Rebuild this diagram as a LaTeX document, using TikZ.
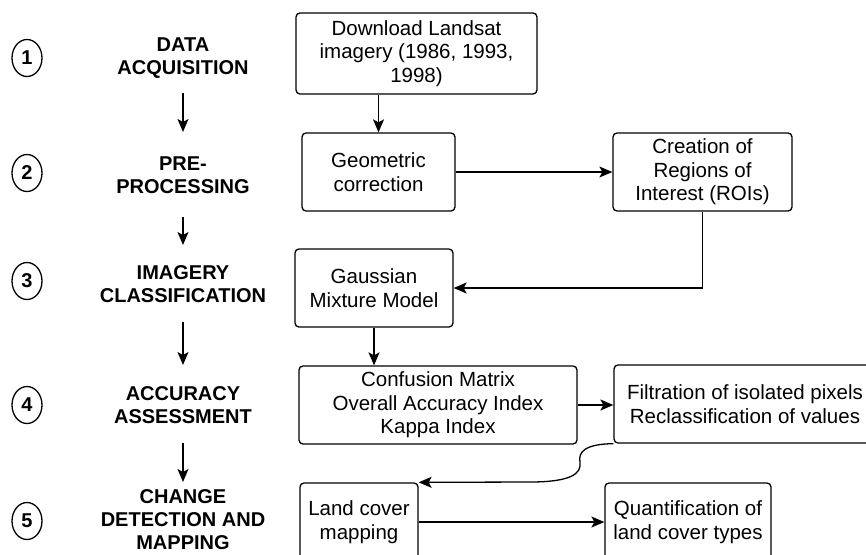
\documentclass[tikz,border=0pt]{standalone}
\usepackage{fontspec}
\setmainfont{Liberation Sans}
\usetikzlibrary{arrows.meta,shapes.geometric}
\begin{document}
\begin{tikzpicture}[x=1pt,y=-1pt]
	 \tikzstyle{stage num}=[ellipse,draw,line width=1.3pt,minimum width=30pt,minimum height=37pt,inner sep=0pt,font=\fontsize{20}{23}\selectfont\bfseries]
	 \tikzstyle{stage}=[align=center,inner sep=0pt,font=\fontsize{20}{23}\selectfont\bfseries]
	 \tikzstyle{box}=[draw,line width=1.3pt,rounded corners=4pt,align=center,inner sep=0pt,minimum height=78pt,font=\fontsize{20.5}{23.5}\selectfont]
	 \tikzstyle{edge}=[draw,line width=1.3pt,-{Stealth[length=13pt,width=11pt,inset=3pt]}]

	 \useasboundingbox (0,0) rectangle (866,554);
	 \clip (0,0) rectangle (866,554);

	 \node[stage num] (n1) at (27,58) {1};
	 \node[stage num] (n2) at (27,173) {2};
	 \node[stage num] (n3) at (27,281) {3};
	 \node[stage num] (n4) at (27,405) {4};
	 \node[stage num] (n5) at (27,521) {5};

	 \node[stage] (s1) at (183,58) {DATA\\ACQUISITION};
	 \node[stage] (s2) at (183,175) {PRE-\\PROCESSING};
	 \node[stage] (s3) at (183,284) {IMAGERY\\CLASSIFICATION};
	 \node[stage] (s4) at (183,405) {ACCURACY\\ASSESSMENT};
	 \node[stage] (s5) at (183,520) {CHANGE\\DETECTION AND\\MAPPING};

	 \draw[edge,shorten <=35pt,shorten >=43pt] (s1.center) -- (s2.center);
	 \draw[edge,shorten <=42pt,shorten >=39pt] (s2.center) -- (s3.center);
	 \draw[edge,shorten <=38pt,shorten >=40pt] (s3.center) -- (s4.center);
	 \draw[edge,shorten <=38pt,shorten >=38pt] (s4.center) -- (s5.center);

	 \node[box,minimum width=241pt,minimum height=81pt] (dl) at (416.5,53.5) {Download Landsat\\imagery (1986, 1993,\\1998)};
	 \node[box,minimum width=153pt] (geo) at (378.5,172) {Geometric\\correction};
	 \node[box,minimum width=179pt] (roi) at (702.5,172) {Creation of\\Regions of\\Interest (ROIs)};
	 \node[box,minimum width=158pt] (gmm) at (374,288) {Gaussian\\Mixture Model};
	 \node[box,minimum width=278pt] (conf) at (438,405) {Confusion Matrix\\Overall Accuracy Index\\Kappa Index};
	 \node[box,minimum width=262pt] (filt) at (745,404) {Filtration of isolated pixels\\Reclassification of values};
	 \node[box,minimum width=118pt] (lcm) at (359,522) {Land cover\\mapping};
	 \node[box,minimum width=166pt] (quant) at (688,522) {Quantification of\\land cover types};

	 \draw[edge] (geo.north |- dl.south) -- (geo.north);
	 \draw[edge] (geo.east) -- (roi.west);
	 \draw[edge] (roi.south) |- (gmm.east);
	 \draw[edge] (gmm.south) -- (gmm.south |- conf.north);
	 \draw[edge] (conf.east) -- (filt.west |- conf.east);
	 \draw[edge] (filt.south west) .. controls (585,444) and (578,452) .. (580,462) .. controls (582,474) and (570,482) .. (530,482) -- (lcm.north east);
	 \draw[edge] (lcm.east) -- (quant.west);
\end{tikzpicture}
\end{document}
